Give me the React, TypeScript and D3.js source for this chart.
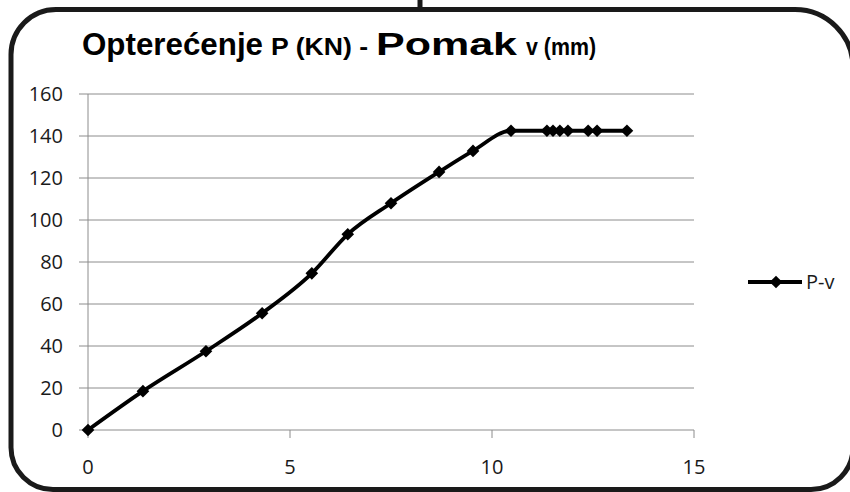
import React from "react";
import * as d3 from "d3";

const displacement = [0, 1.36, 2.92, 4.31, 5.54, 6.43, 7.5, 8.69, 9.53, 10.47, 11.36, 11.51, 11.68, 11.88, 12.38, 12.6, 13.34];
const load = [0, 18.5, 37.5, 55.6, 74.6, 93.2, 108, 122.9, 132.9, 142.5, 142.5, 142.5, 142.5, 142.5, 142.5, 142.5, 142.5];
const yTicks = [0, 20, 40, 60, 80, 100, 120, 140, 160];
const xTicks = [0, 5, 10, 15];
const seriesName = "P-v";
const titleParts = [
  { text: "Opterećenje", big: true },
  { text: "P (KN) -", big: false },
  { text: "Pomak", big: true },
  { text: "v (mm)", big: false },
];

const W = 850, H = 492;
const x = d3.scaleLinear().domain([0, 15]).range([88, 694]);
const y = d3.scaleLinear().domain([0, 160]).range([430, 94]);

const framePath = (() => {
  const l = 11, t = 9.5, r = 853, b = 489.5;
  const tl = 45, tr = 58, br = 42, bl = 42;
  return `M${l + tl},${t} H${r - tr} A${tr},${tr} 0 0 1 ${r},${t + tr} V${b - br} A${br},${br} 0 0 1 ${r - br},${b} H${l + bl} A${bl},${bl} 0 0 1 ${l},${b - bl} V${t + tl} A${tl},${tl} 0 0 1 ${l + tl},${t} Z`;
})();

export default function App() {
  const pts = displacement.map((d, i) => [d, load[i]] as [number, number]);
  const line = d3.line<[number, number]>().x(d => x(d[0])).y(d => y(d[1])).curve(d3.curveMonotoneX);
  const diamond = d3.symbol().type(d3.symbolSquare).size(80)();
  const titleX = [82, 271, 376, 526];
  const titleW = [181, 97, 141, 70];
  const tickFont = "'Open Sans', 'Liberation Sans', sans-serif";
  return (
    <svg width={W} height={H} style={{ position: "fixed", left: 0, top: 0, background: "#fff" }}>
      <rect x={0} y={0} width={W} height={H} fill="#fff" />
      <path d={framePath} fill="none" stroke="#1a1a1a" strokeWidth={5} />
      <line x1={420} x2={420} y1={0} y2={10} stroke="#1a1a1a" strokeWidth={5} />
      {titleParts.map((p, i) => (
        <text key={i} x={titleX[i]} y={55} fontFamily="'Liberation Sans Narrow', 'Arial Narrow', 'Liberation Sans', Arial, sans-serif"
          fontWeight="bold" fontSize={p.big ? 32 : 23} fill="#000" textLength={titleW[i]} lengthAdjust="spacingAndGlyphs">{p.text}</text>
      ))}
      {yTicks.map(t => (
        <g key={t}>
          <line x1={79} x2={694} y1={y(t)} y2={y(t)} stroke="#8c8c8c" strokeWidth={1} />
          <text x={63} y={y(t)} dy="0.36em" textAnchor="end" fontFamily={tickFont} fontSize={20} fill="#1a1a1a">{t}</text>
        </g>
      ))}
      <line x1={x(0)} x2={x(0)} y1={y(160)} y2={y(0)} stroke="#8c8c8c" strokeWidth={1} />
      {xTicks.map(t => (
        <g key={t}>
          <line x1={x(t)} x2={x(t)} y1={y(0)} y2={y(0) + 8} stroke="#8c8c8c" strokeWidth={1} />
          <text x={x(t)} y={474} textAnchor="middle" fontFamily={tickFont} fontSize={20} fill="#1a1a1a">{t}</text>
        </g>
      ))}
      <path d={line(pts) || ""} fill="none" stroke="#000" strokeWidth={3.8} strokeLinejoin="round" />
      {pts.map((p, i) => (
        <path key={i} d={diamond || ""} transform={`translate(${x(p[0])},${y(p[1])}) rotate(45)`} fill="#000" />
      ))}
      <line x1={748} x2={802} y1={282} y2={282} stroke="#000" strokeWidth={3.8} />
      <path d={diamond || ""} transform="translate(776,282) rotate(45)" fill="#000" />
      <text x={806} y={282} dy="0.36em" fontFamily={tickFont} fontSize={20} fill="#1a1a1a">{seriesName}</text>
    </svg>
  );
}
